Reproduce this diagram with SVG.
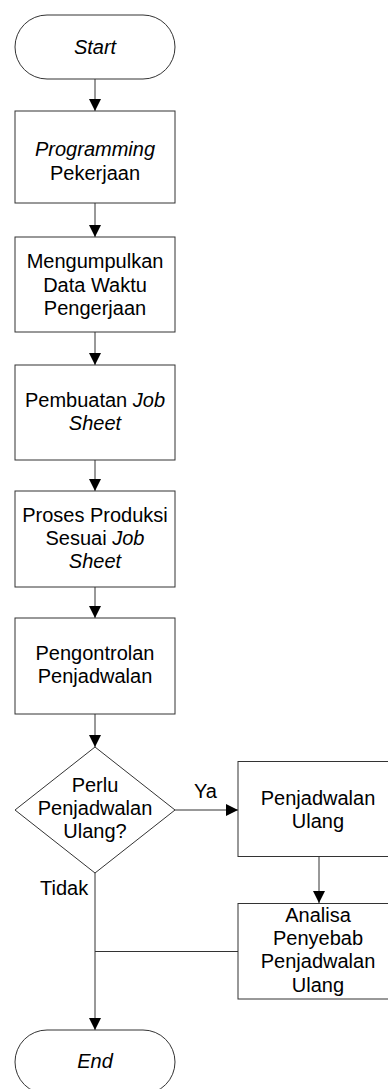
<svg xmlns="http://www.w3.org/2000/svg" width="388" height="1089" viewBox="0 0 388 1089">
<style>
.shape{fill:#fff;stroke:#333;stroke-width:1}
.line{fill:none;stroke:#333;stroke-width:1}
text{font-family:"Liberation Sans",Arial,sans-serif;font-size:20px;fill:#000}
.c{text-anchor:middle}
.i{font-style:italic}
</style>
<defs>
<marker id="arr" markerWidth="12" markerHeight="12" refX="12" refY="6" orient="auto" markerUnits="userSpaceOnUse">
<path d="M0,0 L12,6 L0,12 Z" fill="#000"/>
</marker>
</defs>
<rect width="388" height="1089" fill="#fff"/>
<g id="connectors">
<line class="line" x1="95" y1="79" x2="95" y2="111" marker-end="url(#arr)"/>
<line class="line" x1="95" y1="203" x2="95" y2="237" marker-end="url(#arr)"/>
<line class="line" x1="95" y1="332" x2="95" y2="365" marker-end="url(#arr)"/>
<line class="line" x1="95" y1="460" x2="95" y2="491" marker-end="url(#arr)"/>
<line class="line" x1="95" y1="587" x2="95" y2="618" marker-end="url(#arr)"/>
<line class="line" x1="95" y1="714" x2="95" y2="747" marker-end="url(#arr)"/>
<line class="line" x1="175" y1="810" x2="238" y2="810" marker-end="url(#arr)"/>
<line class="line" x1="319" y1="857" x2="319" y2="903" marker-end="url(#arr)"/>
<line class="line" x1="95" y1="873" x2="95" y2="1030" marker-end="url(#arr)"/>
<line class="line" x1="238" y1="951.5" x2="95" y2="951.5"/>
<text x="194" y="798">Ya</text>
<text x="40" y="895">Tidak</text>
</g>
<g id="start">
<rect class="shape" x="15" y="15" width="160" height="64" rx="32" ry="32"/>
<text class="c i" x="95" y="54">Start</text>
</g>
<g id="programming">
<rect class="shape" x="15" y="111" width="160" height="92"/>
<text class="c i" x="95" y="156">Programming</text>
<text class="c" x="95" y="180">Pekerjaan</text>
</g>
<g id="mengumpulkan">
<rect class="shape" x="15" y="237" width="160" height="95"/>
<text class="c" x="95" y="268">Mengumpulkan</text>
<text class="c" x="95" y="292">Data Waktu</text>
<text class="c" x="95" y="315">Pengerjaan</text>
</g>
<g id="pembuatan">
<rect class="shape" x="15" y="365" width="160" height="95"/>
<text class="c" x="95" y="407">Pembuatan <tspan class="i">Job</tspan></text>
<text class="c i" x="95" y="430">Sheet</text>
</g>
<g id="proses">
<rect class="shape" x="15" y="491" width="160" height="96"/>
<text class="c" x="95" y="522">Proses Produksi</text>
<text class="c" x="95" y="545">Sesuai <tspan class="i">Job</tspan></text>
<text class="c i" x="95" y="568">Sheet</text>
</g>
<g id="pengontrolan">
<rect class="shape" x="15" y="618" width="160" height="96"/>
<text class="c" x="95" y="660">Pengontrolan</text>
<text class="c" x="95" y="683">Penjadwalan</text>
</g>
<g id="decision">
<polygon class="shape" points="95,747 175,810 95,873 15,810"/>
<text class="c" x="95" y="792">Perlu</text>
<text class="c" x="95" y="815">Penjadwalan</text>
<text class="c" x="95" y="838">Ulang?</text>
</g>
<g id="penjadwalan-ulang">
<rect class="shape" x="238" y="761.5" width="160" height="95"/>
<text class="c" x="318" y="805">Penjadwalan</text>
<text class="c" x="318" y="828">Ulang</text>
</g>
<g id="analisa">
<rect class="shape" x="238" y="903.5" width="160" height="95.5"/>
<text class="c" x="318" y="922">Analisa</text>
<text class="c" x="318" y="945">Penyebab</text>
<text class="c" x="318" y="968">Penjadwalan</text>
<text class="c" x="318" y="992">Ulang</text>
</g>
<g id="end">
<rect class="shape" x="15" y="1030" width="160" height="64" rx="32" ry="32"/>
<text class="c i" x="95" y="1068">End</text>
</g>
</svg>
